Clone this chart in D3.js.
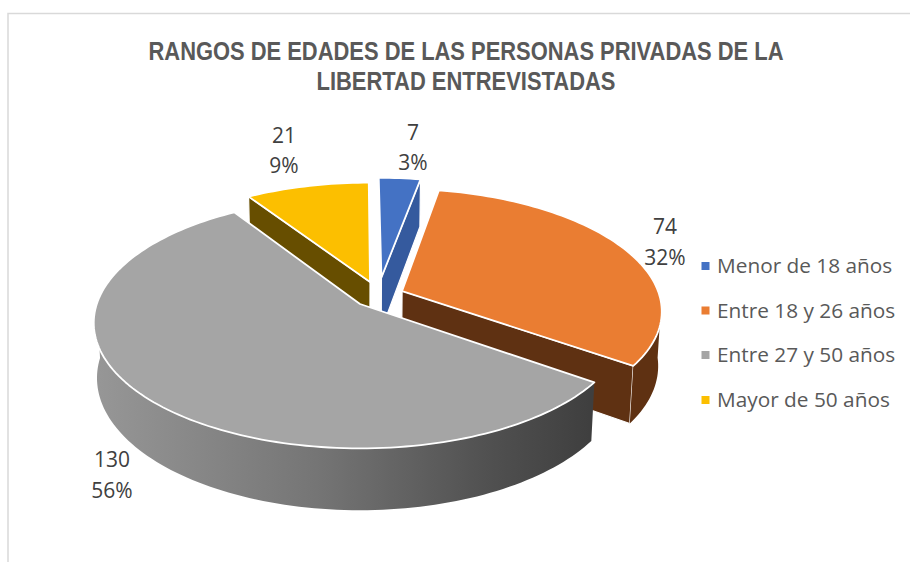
<!DOCTYPE html>
<html><head><meta charset="utf-8">
<script src="https://cdn.jsdelivr.net/npm/d3@7/dist/d3.min.js"></script>
<style>html,body{margin:0;padding:0;background:#fff}svg{display:block}</style>
</head><body><svg id="c" width="910" height="562"></svg>
<script>
const categories = ["Menor de 18 años","Entre 18 y 26 años","Entre 27 y 50 años","Mayor de 50 años"];
const values = [7,74,130,21];
const percents = ["3%","32%","56%","9%"];
const titleLines = ["RANGOS DE EDADES DE LAS PERSONAS PRIVADAS DE LA","LIBERTAD ENTREVISTADAS"];
const topColors = ["#4472c4","#ea7d32","#a5a5a5","#fcbf00"];
const wallColors = ["#355a9e","#5f3112","url(#grayWall)","#674e00"];

// layout only: perspective fit of the tilted pie
const cam = {cx:360, cy:304, A:264, B:123, k:0.151, m:0.012, H:55};
const slicesLayout = [
  {ou:0.084, ov:-0.224, r:0.99},
  {ou:0.162, ov:-0.107, r:0.985},
  {ou:0,     ov:0,      r:0.997},
  {ou:0.039, ov:-0.184, r:0.975}
];
const labelPos = [[413,140,170],[665,234,265],[112,467,498],[284,143,173]];
const legendYs = [266,310.5,355,400];

const svg = d3.select("#c");
const defs = svg.append("defs");
const grad = defs.append("linearGradient").attr("id","grayWall")
  .attr("gradientUnits","userSpaceOnUse").attr("x1",93).attr("x2",590).attr("y1",0).attr("y2",0);
[[0,"#979797"],[0.45,"#757575"],[0.8,"#505050"],[1,"#3f3f3f"]].forEach(s=>
  grad.append("stop").attr("offset",s[0]).attr("stop-color",s[1]));

svg.append("path").attr("d","M910,13.5H8V562").attr("fill","none").attr("stroke","#d9d9d9").attr("stroke-width",1.5);

svg.append("g").selectAll("text").data(titleLines).join("text")
  .attr("x",466).attr("y",(d,i)=>[60,90][i]).attr("text-anchor","middle")
  .attr("font-family","Liberation Sans").attr("font-weight","bold").attr("font-size",25.5)
  .attr("fill","#595959").attr("textLength",(d,i)=>[635,299][i]).attr("lengthAdjust","spacingAndGlyphs")
  .text(d=>d);

const xS = d3.scaleLinear().domain([0,1]).range([cam.cx,cam.cx+cam.A]);
const yS = d3.scaleLinear().domain([0,1]).range([cam.cy,cam.cy+cam.B]);
function projTop(u,v){const w=1-cam.k*v;return [xS(u/w),yS(v/w)];}
function projBottom(u,v){const w=1-cam.k*v+cam.m;return [xS(u/w),cam.cy+(yS(v)-cam.cy+cam.H)/w];}

const pie = d3.pie().sort(null).value(d=>d)(values);
const line = d3.line();
const WHITE="#ffffff";

function polar(i,a,r){const L=slicesLayout[i];return [L.ou+r*Math.sin(a),L.ov-r*Math.cos(a)];}
function arcPts(i){
  const p=pie[i],r=slicesLayout[i].r,n=Math.max(6,Math.ceil((p.endAngle-p.startAngle)*40));
  return d3.range(n+1).map(j=>polar(i,p.startAngle+(p.endAngle-p.startAngle)*j/n,r));
}
const g = svg.append("g");
// paint back to front so that the big front slice hides the walls behind it
[3,0,1,2].forEach(i=>{
  const pts=arcPts(i), L=slicesLayout[i], sG=g.append("g");
  const apex=[L.ou,L.ov];
  const wall=(a,b)=>{
    sG.append("path").attr("d",line([projTop(...a),projTop(...b),projBottom(...b),projBottom(...a)])+"Z")
      .attr("fill",wallColors[i]).attr("stroke",WHITE).attr("stroke-width",1.2)
      .attr("stroke-linejoin","round");
  };
  // radial walls facing the viewer
  if(i===0) wall(apex,pts[pts.length-1]);
  if(i===1) wall(apex,pts[pts.length-1]);
  if(i===3) wall(apex,pts[0]);
  // outer wall
  const front=pts.filter(q=>q[1]>-0.02);
  if(front.length>1){
    const d=line(front.map(q=>projTop(...q)).concat(front.slice().reverse().map(q=>projBottom(...q))))+"Z";
    sG.append("path").attr("d",d).attr("fill",wallColors[i]);
  }
  // top face
  sG.append("path").attr("d",line([projTop(...apex)].concat(pts.map(q=>projTop(...q))))+"Z")
    .attr("fill",topColors[i]).attr("stroke",WHITE).attr("stroke-width",1.8).attr("stroke-linejoin","round");
});

const lab=svg.append("g").attr("font-family","Open Sans").attr("font-size",21).attr("fill","#404040").attr("text-anchor","middle");
values.forEach((v,i)=>{
  lab.append("text").attr("x",labelPos[i][0]).attr("y",labelPos[i][1]).text(v);
  lab.append("text").attr("x",labelPos[i][0]).attr("y",labelPos[i][2]).text(percents[i]);
});
const leg=svg.append("g").selectAll("g").data(categories).join("g");
leg.append("rect").attr("x",701.5).attr("y",(d,i)=>legendYs[i]-4).attr("width",8).attr("height",8).attr("fill",(d,i)=>topColors[i]);
leg.append("text").attr("x",717).attr("y",(d,i)=>legendYs[i]+7).attr("font-family","Open Sans").attr("font-size",20.8).attr("fill","#595959").text(d=>d);
</script></body></html>
